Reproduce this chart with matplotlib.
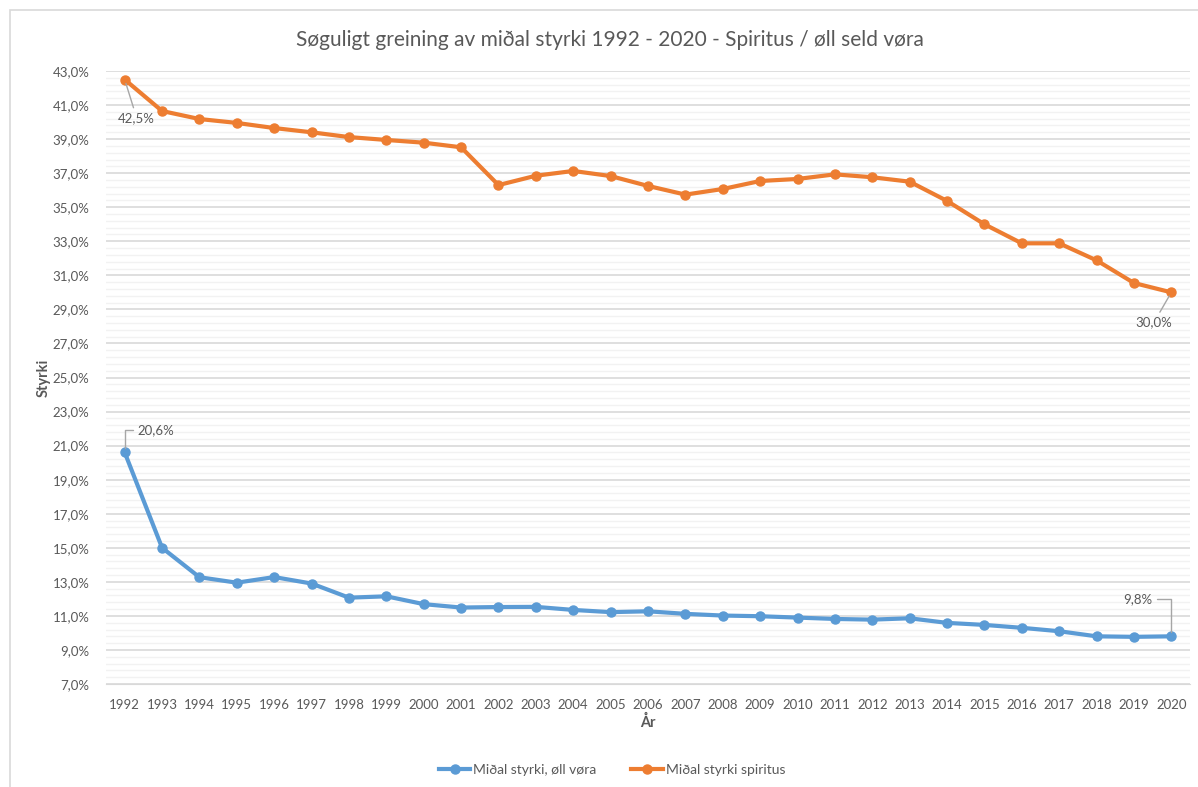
import matplotlib
matplotlib.use('Agg')
import matplotlib.pyplot as plt
from matplotlib.ticker import MultipleLocator, FuncFormatter
from matplotlib.patches import Rectangle

plt.rcParams['font.family'] = ['Lato', 'DejaVu Sans']

TEXT = '#595959'
BLUE = '#5B9BD5'
ORANGE = '#ED7D31'

years = list(range(1992, 2021))
styrki_oll = [20.6, 15.0, 13.27, 12.95, 13.28, 12.9, 12.07, 12.15, 11.69, 11.49,
              11.52, 11.53, 11.35, 11.22, 11.27, 11.12, 11.02, 10.98, 10.9, 10.82,
              10.78, 10.86, 10.59, 10.47, 10.3, 10.1, 9.8, 9.77, 9.8]
styrki_spiritus = [42.5, 40.65, 40.18, 39.95, 39.65, 39.4, 39.12, 38.95, 38.79, 38.52,
                   36.3, 36.85, 37.13, 36.83, 36.25, 35.74, 36.07, 36.54, 36.66, 36.93,
                   36.76, 36.5, 35.37, 34.0, 32.88, 32.88, 31.88, 30.55, 30.0]

title = 'Søguligt greining av miðal styrki 1992 - 2020 - Spiritus / øll seld vøra'
label_oll = 'Miðal styrki, øll vøra'
label_spiritus = 'Miðal styrki spiritus'

fig = plt.figure(figsize=(11.98, 7.87), dpi=100)
fig.patches.append(Rectangle((10 / 1198, -0.1), 1.2, 1.1 - 10 / 787,
                             transform=fig.transFigure, fill=False,
                             edgecolor='#D9D9D9', lw=1.2))
ax = fig.add_axes([106 / 1198, 1 - 684 / 787, (1190 - 106) / 1198, (684 - 71) / 787])

x = list(range(len(years)))
ax.plot(x, styrki_oll, color=BLUE, lw=3, marker='o', ms=6.5, label=label_oll,
        solid_joinstyle='round', zorder=3)
ax.plot(x, styrki_spiritus, color=ORANGE, lw=3, marker='o', ms=6.5, label=label_spiritus,
        solid_joinstyle='round', zorder=3)

ax.set_xlim(-0.5, len(years) - 0.5)
ax.set_ylim(7, 43)
ax.yaxis.set_major_locator(MultipleLocator(2, offset=1))
ax.yaxis.set_minor_locator(MultipleLocator(0.4, offset=0.2))
ax.yaxis.set_major_formatter(FuncFormatter(lambda v, p: f'{v:.1f}%'.replace('.', ',')))
ax.set_xticks(x)
ax.set_xticklabels([str(y) for y in years])
ax.grid(which='major', axis='y', color='#D9D9D9', lw=1.2, zorder=0)
ax.grid(which='minor', axis='y', color='#F2F2F2', lw=1.0, zorder=0)
ax.set_axisbelow(True)
for s in ['top', 'right', 'left']:
    ax.spines[s].set_visible(False)
ax.spines['bottom'].set_color('#D9D9D9')
ax.tick_params(which='both', length=0, colors=TEXT, labelsize=9.5)
ax.tick_params(axis='y', pad=12)
ax.tick_params(axis='x', pad=11)

ax.set_ylabel('Styrki', fontsize=10.5, fontweight='bold', color=TEXT, labelpad=1)
ax.set_xlabel('År', fontsize=10.5, fontweight='bold', color=TEXT, labelpad=2.5)
fig.text(610 / 1198, 1 - 40 / 787, title, ha='center', va='center', fontsize=15, color=TEXT)

lead = dict(arrowstyle='-', color='#A6A6A6', lw=1, shrinkA=1, shrinkB=3)
def fmt(v):
    return f'{v:.1f}%'.replace('.', ',')

ax.annotate(fmt(styrki_spiritus[0]), (0, styrki_spiritus[0]), xytext=(0.32, 40.25),
            ha='center', va='center', fontsize=9.5, color=TEXT, arrowprops=lead)
ax.annotate(fmt(styrki_spiritus[-1]), (x[-1], styrki_spiritus[-1]), xytext=(27.54, 28.25),
            ha='center', va='center', fontsize=9.5, color=TEXT, arrowprops=lead)
ax.annotate(fmt(styrki_oll[0]), (0, styrki_oll[0]), xytext=(0.83, 21.92),
            ha='center', va='center', fontsize=9.5, color=TEXT,
            arrowprops=dict(lead, connectionstyle='angle,angleA=0,angleB=90,rad=0'))
ax.annotate(fmt(styrki_oll[-1]), (x[-1], styrki_oll[-1]), xytext=(27.11, 12.0),
            ha='center', va='center', fontsize=9.5, color=TEXT,
            arrowprops=dict(lead, connectionstyle='angle,angleA=0,angleB=90,rad=0'))

fig.legend(loc='center', bbox_to_anchor=(612 / 1198, 1 - 770 / 787), ncol=2, frameon=False,
           fontsize=10, labelcolor=TEXT, handlelength=2.3, columnspacing=2.5, handletextpad=0.2)

fig.savefig('out.png', dpi=100)
